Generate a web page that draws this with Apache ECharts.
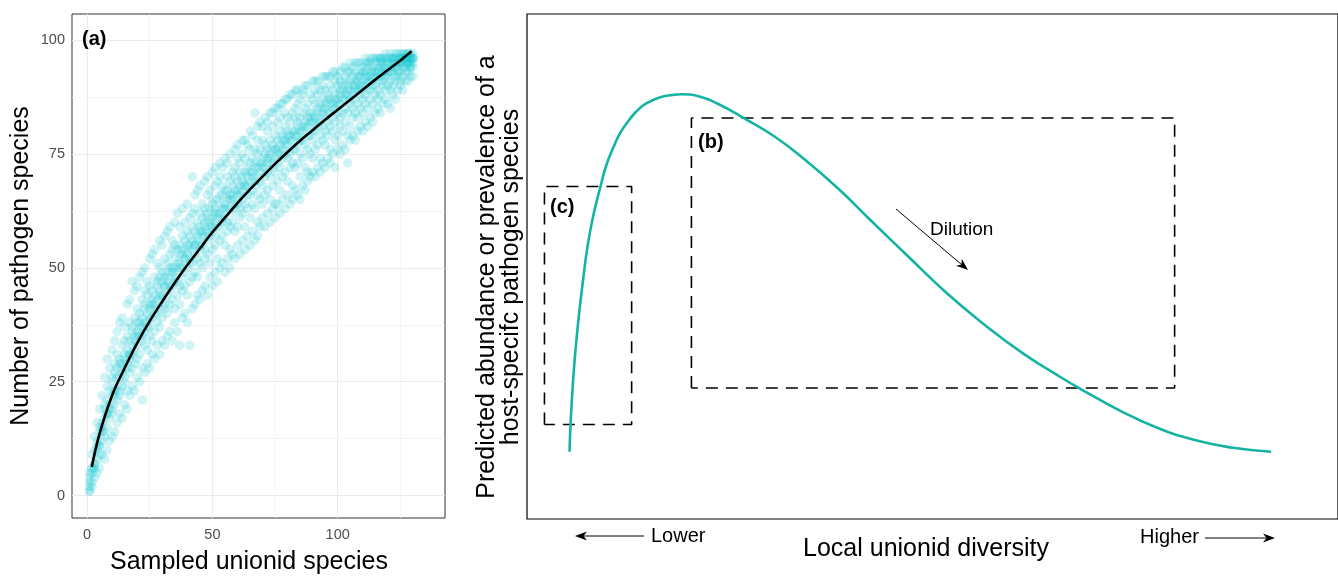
<!DOCTYPE html>
<html>
<head>
<meta charset="utf-8">
<script src="https://cdn.jsdelivr.net/npm/echarts@6/dist/echarts.min.js"></script>
<style>
html,body{margin:0;padding:0;background:#fff;}
#chart{width:1338px;height:578px;}
</style>
</head>
<body>
<div id="chart"></div>
<script>
// ---------- Panel (a): rarefaction of pathogen species ----------
const sampledUnionid = [1,2,3,4,5,6,7,8,9,10,11,12,13,14,15,16,17,18,19,20,21,22,23,24,25,26,27,28,29,30,
31,32,33,34,35,36,37,38,39,40,41,42,43,44,45,46,47,48,49,50,51,52,53,54,55,56,57,58,59,60,
61,62,63,64,65,66,67,68,69,70,71,72,73,74,75,76,77,78,79,80,81,82,83,84,85,86,87,88,89,90,
91,92,93,94,95,96,97,98,99,100,101,102,103,104,105,106,107,108,109,110,111,112,113,114,115,116,117,118,119,120,
121,122,123,124,125,126,127,128,129,130];
const pathogenCounts = [
[1,1,2,3,4,5],[2,3,5,6,6,9],[4,6,7,7,10,13],[5,8,10,11,12,16],[6,9,11,11,14,15,19],
[9,12,14,15,16,22],[8,13,14,17,19,20,26],[10,15,18,18,21,24,30],[12,17,19,20,23,28],[13,18,19,22,25,26,32],
[14,20,22,23,23,27,29,34],[16,21,24,26,28,31,36],[18,22,23,26,29,30,38],[17,24,27,28,29,33,39],[20,25,26,30,31,34,37],
[19,23,28,29,32,35,42],[22,27,30,31,31,34,38,43],[24,28,31,33,36,37,47],[23,29,32,34,35,39,45],[26,30,33,35,36,38,41,46],
[25,31,35,37,38,40,48],[21,28,34,35,37,39,43,49],[27,33,36,38,41,42,45,50],[29,32,37,38,40,44,47],[28,35,37,39,41,42,46,52],
[31,34,39,42,43,45,53],[30,36,40,41,42,44,48,54],[33,38,40,43,46,47,51],[31,37,41,44,45,48,50,56],[34,39,43,44,47,49,55],
[33,41,42,46,46,48,52,57],[35,40,44,47,49,51,58],[36,42,45,46,48,50,53,59],[34,43,46,49,50,54,56],[38,41,47,48,50,52,55,60],
[36,44,47,49,51,54,62],[33,42,46,50,51,53,55,59],[39,45,48,50,53,54,57,63],[40,46,49,52,52,56,60],[38,44,50,53,54,55,58,64],
[33,47,51,52,55,57,61],[41,48,51,54,56,59,62,70],[42,49,53,55,55,58,63,66],[44,48,52,56,57,60,67],[43,51,54,55,58,59,62,68],
[45,50,55,57,58,61,64],[46,52,54,57,59,60,63,69],[44,53,56,58,61,62,66,70],[48,51,57,59,60,63,67],[46,54,58,59,61,64,65,71],
[49,55,57,60,62,63,68,72],[47,52,59,61,62,65,69],[50,56,59,62,64,66,70,73],[51,57,60,61,63,66,68,72],[49,55,61,63,64,67,74],
[52,58,60,63,65,67,70,73],[50,54,59,63,65,66,69,75],[53,60,62,65,66,68,71],[52,58,63,64,67,70,72,76],[55,59,64,66,67,69,74,77],
[53,61,63,66,68,71,73],[56,62,65,67,69,70,75,78],[54,59,64,68,68,71,74,78],[57,63,66,68,70,72,77],[55,61,66,69,71,73,76,80],
[58,64,67,70,71,74,79],[56,63,68,69,72,73,76,84],[57,60,66,70,72,75,78,81],[59,65,69,71,73,76,82],[61,64,68,72,73,74,78,81],
[59,66,70,72,75,77,83],[62,67,71,73,74,76,80,82],[60,65,70,74,75,78,84],[63,68,72,73,76,77,81,84],[61,64,71,74,76,79,85],
[64,69,73,75,76,78,82,85],[62,67,72,75,77,80,83,86],[65,70,74,76,78,79,86],[63,71,75,77,78,81,84,87],[66,69,74,77,79,80,83,87],
[64,72,75,78,79,82,88],[65,68,73,76,78,80,84,88],[67,72,76,79,80,83,85,89],[66,73,77,79,81,82,86,89],[65,70,75,78,80,83,87],
[68,74,78,80,81,84,88,89],[67,72,77,81,82,85,90],[69,71,76,79,81,83,86,90],[70,75,79,82,83,84,88],[71,74,78,80,82,84,87,91],
[70,76,80,82,83,86,89,91],[72,77,81,84,85,88,91],[71,74,79,82,83,86,89],[73,78,81,84,85,87,90,92],[72,77,80,83,85,86,89,92],
[74,79,82,84,87,88,92],[73,76,81,84,86,87,90,92],[75,80,83,85,86,89,93],[72,78,82,85,87,88,91,93],[76,79,84,86,87,90,92],
[75,81,83,86,88,89,91,93],[77,80,84,87,89,90,94],[76,82,85,87,88,91,92,94],[73,79,84,88,89,90,93],[78,81,86,87,89,91,93,95],
[79,83,85,88,90,92,94],[78,84,87,89,90,91,93,95],[80,83,86,89,91,92,95],[81,85,88,89,90,92,93,95],[80,84,87,90,91,93,94],
[82,86,88,90,92,93,95,96],[81,85,89,91,92,94,95],[83,87,89,91,92,93,95,96],[82,86,90,91,93,94,96],[84,88,90,92,93,95,96],
[85,87,89,92,93,94,96],[84,88,91,92,94,95,96,96],[86,90,91,93,94,95,96],[87,89,92,93,94,96,97],[86,90,92,93,95,95,96],
[85,89,91,93,94,96,97],[88,90,93,94,95,96,96],[87,91,92,94,95,96,97],[89,92,93,94,95,96,97],[90,91,93,95,95,96,97],
[89,92,94,95,96,96,97],[91,93,94,95,96,96,97],[91,93,95,95,96,97,97],[92,94,94,95,96,96,97],[92,94,95,96,96,96,97]
];
// fitted accumulation curve
const fitX = [1.9,5,10,15,20,25,30,35,40,45,50,55,60,65,70,75,80,85,90,95,100,105,110,115,120,125,129.5];
const fitY = [6.3,13.6,22,28,33.5,38.3,42.6,46.7,50.6,54.2,57.8,61,64.2,67.2,70,72.8,75.4,77.9,80.2,82.5,84.7,86.9,89.1,91.3,93.4,95.5,97.5];
const xTicksA = [0,50,100];
const yTicksA = [0,25,50,75,100];
const xMinorA = [25,75,125];
const yMinorA = [12.5,37.5,62.5,87.5];

// ---------- Conceptual panel: predicted abundance vs diversity ----------
const diversityX = [5.265,5.388,5.709,6.042,6.449,6.942,7.485,8.175,9.088,9.827,10.727,11.467,12.367,13.527,14.760,16.400,18.039,19.112,
21.332,23.551,26.880,30.678,34.451,38.705,42.491,47.213,51.936,56.658,61.381,66.104,68.471,73.194,77.916,82.639,87.374,92.096];
const predictedY = [13.33,18.75,27.52,34.12,40.73,47.33,53.92,59.86,65.80,70.10,73.72,76.24,78.42,80.69,82.28,83.47,83.96,84.10,
83.66,82.28,79.35,75.70,71.09,65.15,59.21,51.94,44.75,38.42,32.81,28.02,25.78,21.62,18.12,15.64,14.10,13.33];
const boxB = [20.35,25.94,80.15,79.41];   // x1,y1,x2,y2
const boxC = [2.16,18.71,12.95,65.84];

const FONT = '"Liberation Sans", Arial, Helvetica, sans-serif';

const scatterData = [];
sampledUnionid.forEach((x,i)=>{ pathogenCounts[i].forEach(y=>scatterData.push([x,y])); });
const fitData = fitX.map((x,i)=>[x,fitY[i]]);
const curveData = diversityX.map((x,i)=>[x,predictedY[i]]);
function rect(b){ return [[b[0],b[1]],[b[0],b[3]],[b[2],b[3]],[b[2],b[1]],[b[0],b[1]]]; }

const gridLines = [];
xTicksA.forEach(v=>gridLines.push({xAxis:v,lineStyle:{color:'#ebebeb',width:1.1,type:'solid'}}));
yTicksA.forEach(v=>gridLines.push({yAxis:v,lineStyle:{color:'#ebebeb',width:1.1,type:'solid'}}));
xMinorA.forEach(v=>gridLines.push({xAxis:v,lineStyle:{color:'#f0f0f0',width:0.7,type:'solid'}}));
yMinorA.forEach(v=>gridLines.push({yAxis:v,lineStyle:{color:'#f0f0f0',width:0.7,type:'solid'}}));

function arrow(x1,y1,x2,y2,L,W){
  const dx=x2-x1, dy=y2-y1, len=Math.sqrt(dx*dx+dy*dy);
  const ux=dx/len, uy=dy/len, nx=-uy, ny=ux;
  const notch=3.5;
  return [
    {type:'line',silent:true,shape:{x1:x1,y1:y1,x2:x2-ux*(L-notch),y2:y2-uy*(L-notch)},style:{stroke:'#000',lineWidth:1}},
    {type:'polygon',silent:true,shape:{points:[[x2,y2],[x2-ux*L+nx*W,y2-uy*L+ny*W],[x2-ux*(L-notch),y2-uy*(L-notch)],[x2-ux*L-nx*W,y2-uy*L-ny*W]]},style:{fill:'#000'}}
  ];
}
function txt(t,x,y,size,opts){
  opts=opts||{};
  return {type:'text',silent:true,x:x,y:y,rotation:opts.rot||0,z:10,
    style:{text:t,font:(opts.bold?'bold ':'')+size+'px '+FONT,fill:opts.fill||'#000',
      align:opts.align||'center',verticalAlign:'middle'}};
}

const chart = echarts.init(document.getElementById('chart'), null, {renderer:'canvas'});
chart.setOption({
  animation:false,
  backgroundColor:'#fff',
  grid:[
    {left:72,top:14,width:373,height:504,show:true,borderColor:'#333',borderWidth:1,backgroundColor:'#fff'},
    {left:527,top:14,width:814,height:505,show:true,borderColor:'#000',borderWidth:1.2,backgroundColor:'#fff'}
  ],
  xAxis:[
    {type:'value',gridIndex:0,min:-6,max:142.8,
     axisLine:{show:false},
     axisTick:{show:true,length:4,customValues:xTicksA,lineStyle:{color:'#333',width:1}},
     axisLabel:{customValues:xTicksA,color:'#4d4d4d',fontSize:14.5,fontFamily:FONT,margin:9},
     splitLine:{show:false}},
    {type:'value',gridIndex:1,min:0,max:100.37,show:false}
  ],
  yAxis:[
    {type:'value',gridIndex:0,min:-4.9,max:105.7,
     axisLine:{show:false},
     axisTick:{show:true,length:4,customValues:yTicksA,lineStyle:{color:'#333',width:1}},
     axisLabel:{customValues:yTicksA,color:'#4d4d4d',fontSize:14.5,fontFamily:FONT,margin:7},
     splitLine:{show:false}},
    {type:'value',gridIndex:1,min:0,max:100,show:false}
  ],
  series:[
    {type:'scatter',xAxisIndex:0,yAxisIndex:0,data:[],z:1,silent:true,
     markLine:{silent:true,symbol:['none','none'],label:{show:false},z:1,animation:false,data:gridLines}},
    {type:'scatter',xAxisIndex:0,yAxisIndex:0,data:scatterData,symbol:'circle',symbolSize:9.5,z:3,silent:true,
     itemStyle:{color:'rgba(0,198,206,0.23)',borderWidth:0}},
    {type:'line',xAxisIndex:0,yAxisIndex:0,data:fitData,smooth:0.4,showSymbol:false,z:4,silent:true,
     lineStyle:{color:'#000',width:2.6}},
    {type:'line',xAxisIndex:1,yAxisIndex:1,data:curveData,smooth:0.5,showSymbol:false,z:4,silent:true,
     lineStyle:{color:'#14b4a4',width:2.6}},
    {type:'line',xAxisIndex:1,yAxisIndex:1,data:rect(boxB),showSymbol:false,z:3,silent:true,
     lineStyle:{color:'#000',width:1.6,type:[12,8]}},
    {type:'line',xAxisIndex:1,yAxisIndex:1,data:rect(boxC),showSymbol:false,z:3,silent:true,
     lineStyle:{color:'#000',width:1.6,type:[12,8]}}
  ],
  graphic:[].concat(
    [
      txt('(a)',82,39,20,{bold:true,align:'left'}),
      txt('Number of pathogen species',21,266,25,{rot:Math.PI/2}),
      txt('Sampled unionid species',249,562,25),
      txt('Predicted abundance or prevalence of a',487,277,25,{rot:Math.PI/2}),
      txt('host-specifc pathogen species',511,277,25,{rot:Math.PI/2}),
      txt('Local unionid diversity',926,549,25),
      txt('(b)',698,142,20,{bold:true,align:'left'}),
      txt('(c)',550,207,20,{bold:true,align:'left'}),
      txt('Dilution',930,230,19,{align:'left'}),
      txt('Lower',651,536,20,{align:'left'}),
      txt('Higher',1199,537,20,{align:'right'})
    ],
    arrow(896,209,968,270,12,4.5),
    arrow(644,536,575,536,12,4.5),
    arrow(1205,538,1275,538,12,4.5)
  )
});
</script>
</body>
</html>
